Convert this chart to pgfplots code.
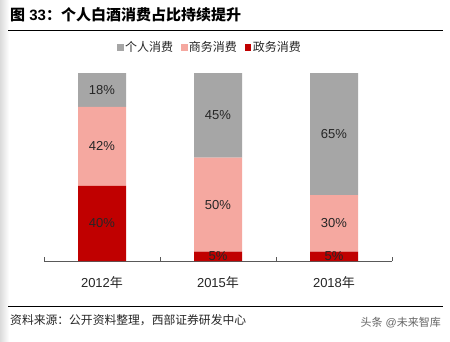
\documentclass[border=0pt]{standalone}
\usepackage{pgfplots}
\pgfplotsset{compat=1.18}
\usepackage{fontspec}
\setmainfont{Liberation Sans}
\newfontfamily\cjk{Noto Sans CJK SC}
\definecolor{cgrey}{RGB}{166,166,166}
\definecolor{cpink}{RGB}{245,168,160}
\definecolor{cred}{RGB}{192,0,0}
\definecolor{ctext}{RGB}{38,38,38}
\definecolor{caxis}{RGB}{89,89,89}
\begin{document}
\begin{tikzpicture}[x=1pt,y=1pt]
\useasboundingbox (0,0) rectangle (450,341);
\fill[white] (0,0) rectangle (450,341);
\shade[left color=black!14, right color=white] (0,0) rectangle (9,341);
\node[anchor=west, inner sep=0pt, font=\fontsize{15}{18}\selectfont\bfseries] at (10,326) {{\cjk\bfseries 图} 33{\cjk\bfseries ：个人白酒消费占比持续提升}};
\draw[line width=0.8pt] (8,311) -- (443,311);

\begin{axis}[
  at={(44pt,80pt)}, anchor=south west, scale only axis,
  width=348pt, height=188pt,
  xmin=-0.5, xmax=2.5, ymin=0, ymax=100,
  ybar stacked, bar width=48pt,
  axis x line*=bottom, hide y axis,
  axis line style={-, draw=caxis, line width=0.7pt},
  xtick={-0.5,0.5,1.5,2.5}, xticklabels={},
  tick align=inside, major tick length=4.5pt,
  tick style={draw=caxis, line width=0.7pt},
  extra x ticks={0,1,2},
  extra x tick labels={2012{\cjk 年},2015{\cjk 年},2018{\cjk 年}},
  extra x tick style={major tick length=0pt},
  x tick label style={font=\fontsize{13}{15}\selectfont, text=ctext, yshift=-12pt},
  legend style={at={(0.477,1.135)}, anchor=center, draw=none, fill=none,
    legend columns=3, font=\fontsize{12}{14}\selectfont, text=ctext,
    /tikz/every even column/.append style={column sep=6pt}, inner sep=0pt},
  clip=false,
]
\addlegendimage{legend image code/.code={\fill[cgrey] (0pt,-2.5pt) rectangle (5.5pt,3pt);}}
\addlegendentry{{\cjk 个人消费}}
\addlegendimage{legend image code/.code={\fill[cpink] (0pt,-2.5pt) rectangle (5.5pt,3pt);}}
\addlegendentry{{\cjk 商务消费}}
\addlegendimage{legend image code/.code={\fill[cred] (0pt,-2.5pt) rectangle (5.5pt,3pt);}}
\addlegendentry{{\cjk 政务消费}}
\addplot[fill=cred, draw=none, forget plot] coordinates {(0,40) (1,5) (2,5)};
\addplot[fill=cpink, draw=none, forget plot] coordinates {(0,42) (1,50) (2,30)};
\addplot[fill=cgrey, draw=none, forget plot] coordinates {(0,18) (1,45) (2,65)};
\end{axis}

\begin{axis}[
  at={(44pt,80pt)}, anchor=south west, scale only axis,
  width=348pt, height=188pt,
  xmin=-0.5, xmax=2.5, ymin=0, ymax=100,
  hide axis, clip=false,
]
\addplot[draw=none, mark=none, nodes near coords, point meta=explicit symbolic,
  every node near coord/.append style={anchor=center, font=\fontsize{13}{15}\selectfont, text=ctext}]
  coordinates {
  (0,20) [40\%] (0,61) [42\%] (0,91) [18\%]
  (1,2.5) [5\%] (1,30) [50\%] (1,77.5) [45\%]
  (2,2.5) [5\%] (2,20) [30\%] (2,67.5) [65\%]
  };
\end{axis}

\draw[line width=0.8pt] (8,35) -- (443,35);
\node[anchor=west, inner sep=0pt, font=\fontsize{11.8}{14}\selectfont, text=ctext] at (10,21) {\cjk 资料来源：公开资料整理，西部证券研发中心};
\node[anchor=east, inner sep=0pt, font=\fontsize{11}{13}\selectfont, text=black!60] at (441,18) {{\cjk 头条} @{\cjk 未来智库}};
\end{tikzpicture}
\end{document}
